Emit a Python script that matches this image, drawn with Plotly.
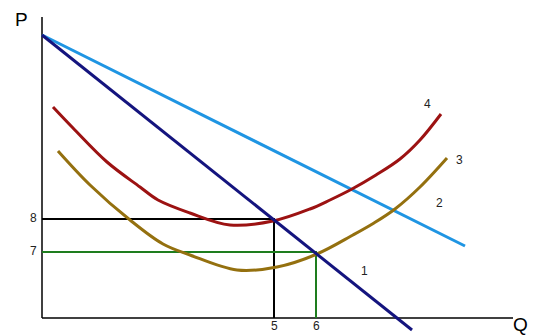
import plotly.graph_objects as go

# Values in chart units (Q to the right of the origin, P above the origin)
demand_q = [0, 370]            # line 1
demand_p = [283, -12]
mr_q = [0, 423]                # line 2
mr_p = [283, 72]
atc_q = [11, 31, 65, 98, 116, 148, 188, 231, 268, 288, 310, 334, 358, 378, 399]   # curve 4
atc_p = [211, 190, 156, 131, 118, 105, 93, 97, 109, 118, 129, 143, 159, 178, 204]
avc_q = [16, 48, 88, 121, 148, 195, 235, 275, 311, 332, 353, 378, 405]            # curve 3
avc_p = [167, 133, 98, 74, 63, 48, 51, 64, 83, 95, 109, 131, 160]
p8, q5 = 99, 232
p7, q6 = 66, 274

curve_labels = ["1", "2", "3", "4"]
label_q = [322, 397, 417, 385]
label_p = [47, 115, 158, 214]
price_ticks = ["8", "7"]
qty_ticks = ["5", "6"]

fig = go.Figure()

# axes
fig.add_trace(go.Scatter(x=[0, 0], y=[301, 0], mode="lines",
                         line=dict(color="black", width=1.5), hoverinfo="skip"))
fig.add_trace(go.Scatter(x=[0, 471], y=[0, 0], mode="lines",
                         line=dict(color="black", width=1.5), hoverinfo="skip"))

# reference lines
fig.add_trace(go.Scatter(x=[0, q5, q5], y=[p8, p8, 0], mode="lines",
                         line=dict(color="black", width=2)))
fig.add_trace(go.Scatter(x=[0, q6, q6], y=[p7, p7, 0], mode="lines",
                         line=dict(color="#1e7d1e", width=2)))

# curves
fig.add_trace(go.Scatter(x=mr_q, y=mr_p, mode="lines",
                         line=dict(color="#1f95e3", width=3)))
fig.add_trace(go.Scatter(x=atc_q, y=atc_p, mode="lines",
                         line=dict(color="#9c1212", width=3, shape="spline", smoothing=1.0)))
fig.add_trace(go.Scatter(x=avc_q, y=avc_p, mode="lines",
                         line=dict(color="#94700f", width=3, shape="spline", smoothing=1.0)))
fig.add_trace(go.Scatter(x=demand_q, y=demand_p, mode="lines",
                         line=dict(color="#14147e", width=3)))

font = dict(family="Liberation Sans, Arial", color="#222", size=12)
for t, q, p in zip(curve_labels, label_q, label_p):
    fig.add_annotation(x=q, y=p, text=t, showarrow=False, font=font)
for t, p in zip(price_ticks, [p8, p7]):
    fig.add_annotation(x=-9, y=p + 1, text=t, showarrow=False, font=font)
for t, q in zip(qty_ticks, [q5, q6]):
    fig.add_annotation(x=q, y=-8, text=t, showarrow=False, font=font)
big = dict(family="Liberation Sans, Arial", color="black", size=19)
fig.add_annotation(x=-21, y=310, yanchor="top", text="P", showarrow=False,
                   font=big, borderpad=0)
fig.add_annotation(x=478, y=-6, text="Q", showarrow=False, font=big)

# the page body has an 8px margin, so the figure is 8px smaller and its ranges start 8px in
fig.update_layout(
    width=530, height=327, margin=dict(l=0, r=0, t=0, b=0),
    paper_bgcolor="white", plot_bgcolor="white", showlegend=False,
    xaxis=dict(range=[-34, 496], visible=False, fixedrange=True),
    yaxis=dict(range=[-17, 310], visible=False, fixedrange=True),
)
fig.write_html("out.html", config={"displayModeBar": False})
